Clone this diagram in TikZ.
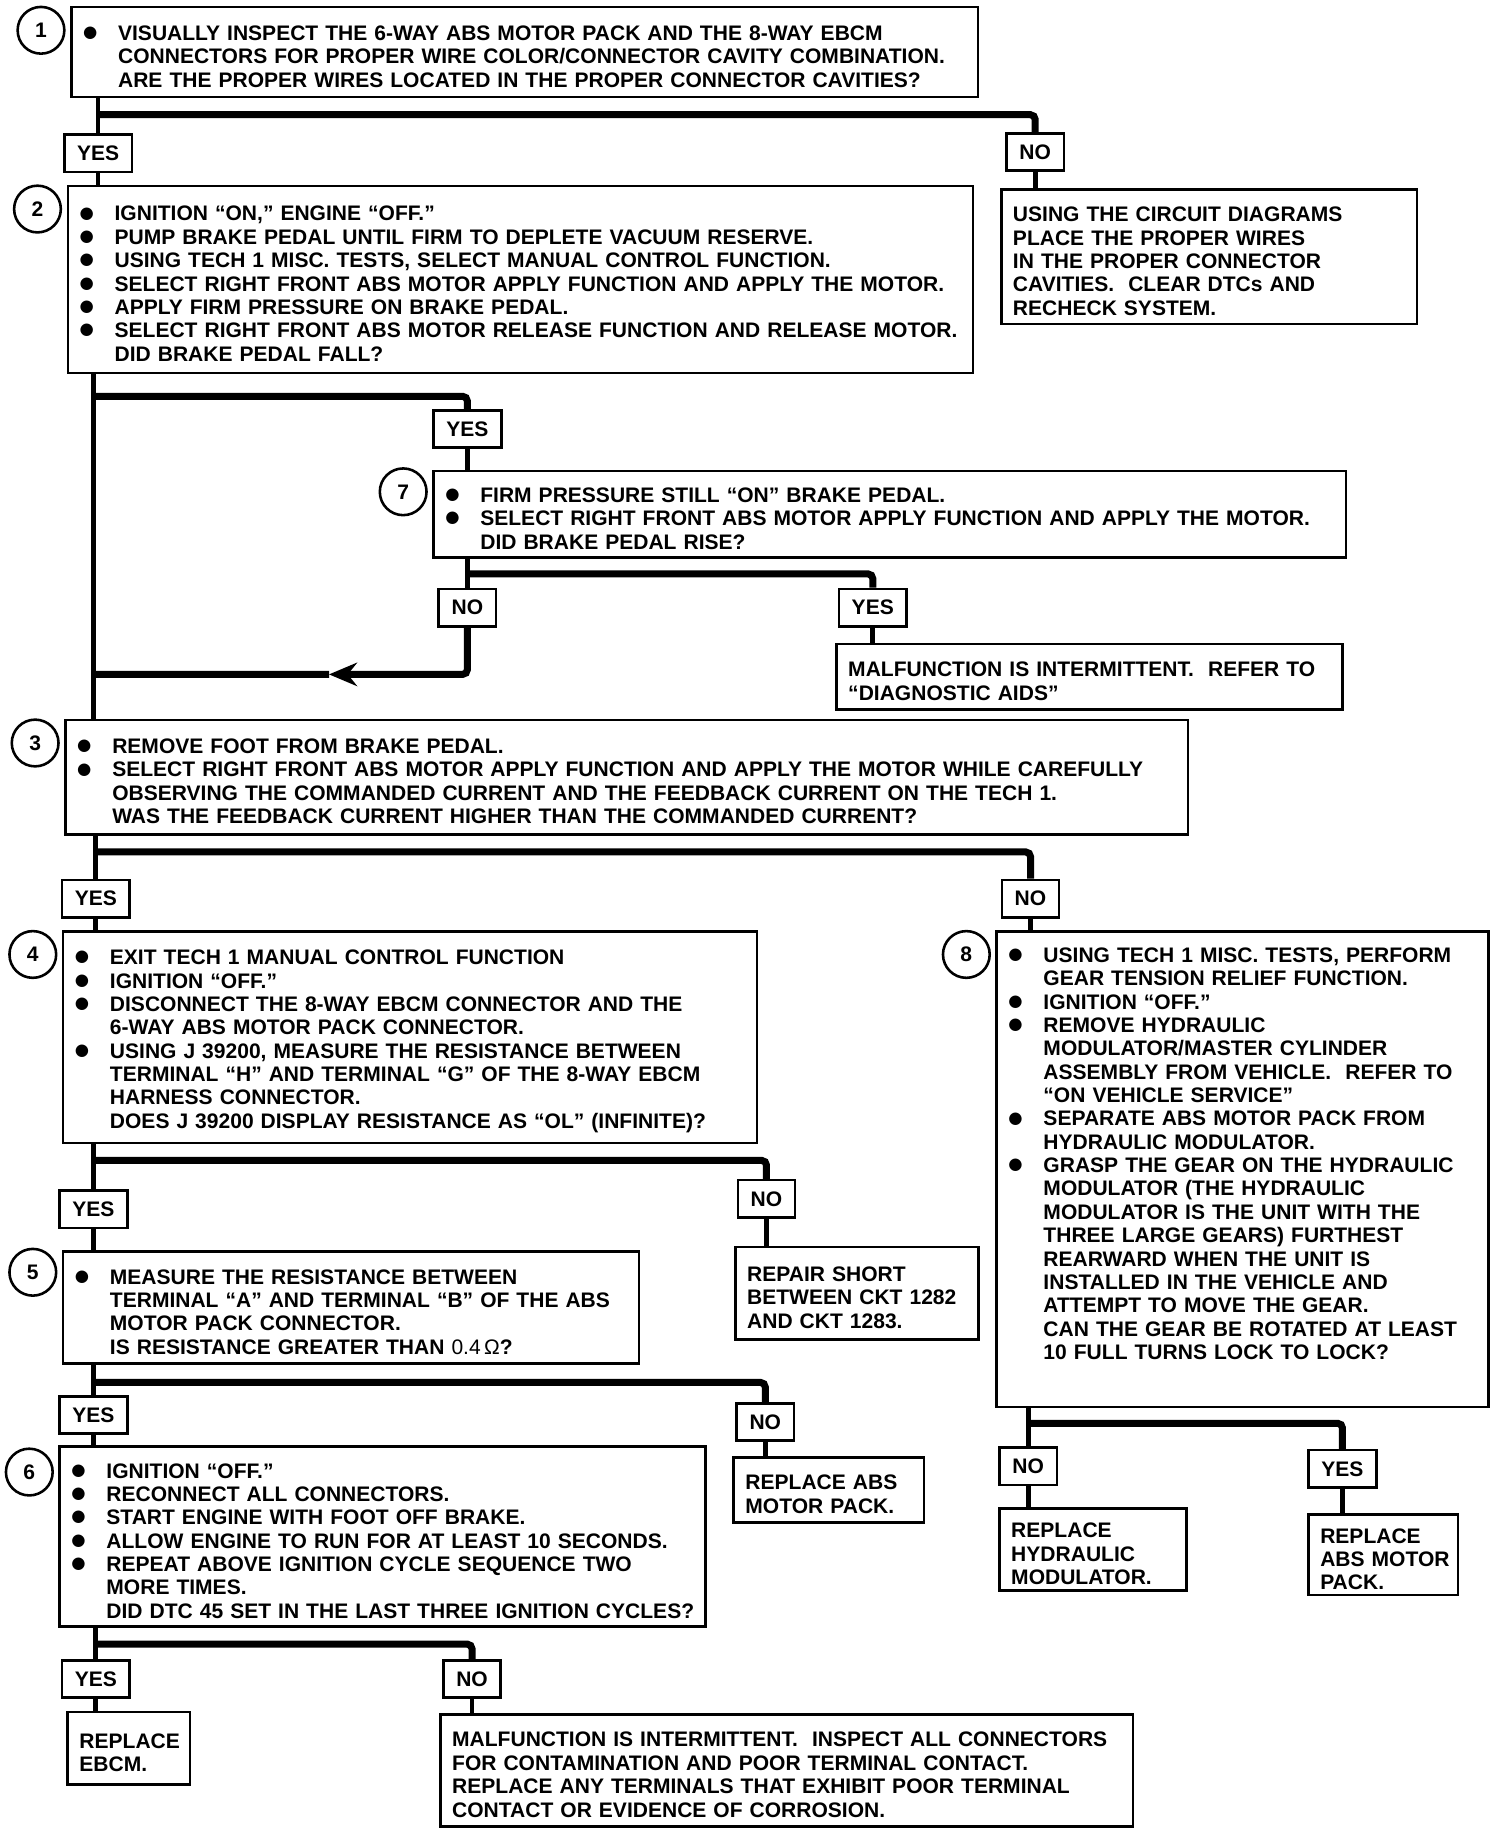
\documentclass[tikz,border=0pt]{standalone}
\usepackage{fontspec}
\setmainfont{Liberation Sans}
\newfontfamily\dotfont{DejaVu Sans}
\usetikzlibrary{positioning,arrows.meta,calc}
\newcommand{\bul}[1]{\par\noindent\makebox[16pt][l]{\hspace{1pt}\raisebox{1.2pt}{\dotfont\fontsize{7pt}{7pt}\selectfont ●}}\mbox{#1}}
\newcommand{\nxt}[1]{\par\noindent\hspace*{16pt}\mbox{#1}}
\newcommand{\pln}[1]{\par\noindent\mbox{#1}}

\begin{document}
\begin{tikzpicture}[x=0.5pt,y=-0.5pt,font=\fontsize{9pt}{10pt}\selectfont\bfseries,
  stepbox/.style={draw,line width=1.1pt,anchor=north west,inner xsep=4pt,inner ysep=0pt},
  endbox/.style={draw,line width=1.1pt,inner xsep=5pt,inner ysep=0pt},
  ans/.style={draw,line width=1.1pt,anchor=north,inner xsep=5.5pt,inner ysep=0pt,minimum height=16pt},
  num/.style={circle,draw,line width=1.1pt,minimum size=20pt,inner sep=0pt},
  wire/.style={line width=2pt},
  bar/.style={line width=3pt,rounded corners=2pt}]
  \useasboundingbox (0,0) rectangle (1287,1568);

  \node[stepbox,text width=379.9pt,minimum height=38.5pt] (s1) at (60,5) {%
    \bul{VISUALLY INSPECT THE 6-WAY ABS MOTOR PACK AND THE 8-WAY EBCM}
    \nxt{CONNECTORS FOR PROPER WIRE COLOR/CONNECTOR CAVITY COMBINATION.}
    \nxt{ARE THE PROPER WIRES LOCATED IN THE PROPER CONNECTOR CAVITIES?}};
  \node[num,below left=3pt and 5pt of s1.north west] (c1) {1};
  \node[ans] (y1) at (84,114) {YES};
  \node[ans] (n1) at (886,113) {NO};
  \node[endbox,text width=167.9pt,minimum height=57.5pt,below right=7pt and -2.25pt of n1.south west] (r1) {%
    \pln{USING THE CIRCUIT DIAGRAMS}
    \pln{PLACE THE PROPER WIRES}
    \pln{IN THE PROPER CONNECTOR}
    \pln{CAVITIES.\ \ CLEAR DTCs AND}
    \pln{RECHECK SYSTEM.}};

  \node[stepbox,text width=379.4pt,minimum height=80pt] (s2) at (57,158) {%
    \bul{IGNITION ``ON,'' ENGINE ``OFF.''}
    \bul{PUMP BRAKE PEDAL UNTIL FIRM TO DEPLETE VACUUM RESERVE.}
    \bul{USING TECH 1 MISC. TESTS, SELECT MANUAL CONTROL FUNCTION.}
    \bul{SELECT RIGHT FRONT ABS MOTOR APPLY FUNCTION AND APPLY THE MOTOR.}
    \bul{APPLY FIRM PRESSURE ON BRAKE PEDAL.}
    \bul{SELECT RIGHT FRONT ABS MOTOR RELEASE FUNCTION AND RELEASE MOTOR.}
    \nxt{DID BRAKE PEDAL FALL?}};
  \node[num,below left=3pt and 5pt of s2.north west] (c2) {2};
  \node[ans] (y2) at (400,350) {YES};

  \node[stepbox,text width=382.4pt,minimum height=37pt] (s7) at (370,402) {%
    \bul{FIRM PRESSURE STILL ``ON'' BRAKE PEDAL.}
    \bul{SELECT RIGHT FRONT ABS MOTOR APPLY FUNCTION AND APPLY THE MOTOR.}
    \nxt{DID BRAKE PEDAL RISE?}};
  \node[num,below left=2pt and 5pt of s7.north west] (c7) {7};
  \node[ans] (n7) at (400,503) {NO};
  \node[ans] (y7) at (747,503) {YES};
  \node[endbox,text width=206.4pt,minimum height=28pt,below right=6.5pt and -1pt of y7.south west] (r7) {%
    \pln{MALFUNCTION IS INTERMITTENT.\ \ REFER TO}
    \pln{``DIAGNOSTIC AIDS''}};

  \node[stepbox,text width=472.4pt,minimum height=49pt] (s3) at (55,615) {%
    \bul{REMOVE FOOT FROM BRAKE PEDAL.}
    \bul{SELECT RIGHT FRONT ABS MOTOR APPLY FUNCTION AND APPLY THE MOTOR WHILE CAREFULLY}
    \nxt{OBSERVING THE COMMANDED CURRENT AND THE FEEDBACK CURRENT ON THE TECH 1.}
    \nxt{WAS THE FEEDBACK CURRENT HIGHER THAN THE COMMANDED CURRENT?}};
  \node[num,below left=3pt and 5pt of s3.north west] (c3) {3};
  \node[ans] (y3) at (82,752) {YES};
  \node[ans] (n3) at (882,752) {NO};

  \node[stepbox,text width=288.9pt,minimum height=90.5pt] (s4) at (53,796) {%
    \bul{EXIT TECH 1 MANUAL CONTROL FUNCTION}
    \bul{IGNITION ``OFF.''}
    \bul{DISCONNECT THE 8-WAY EBCM CONNECTOR AND THE}
    \nxt{6-WAY ABS MOTOR PACK CONNECTOR.}
    \bul{USING J 39200, MEASURE THE RESISTANCE BETWEEN}
    \nxt{TERMINAL ``H'' AND TERMINAL ``G'' OF THE 8-WAY EBCM}
    \nxt{HARNESS CONNECTOR.}
    \nxt{DOES J 39200 DISPLAY RESISTANCE AS ``OL'' (INFINITE)?}};
  \node[num,below left=3pt and 5pt of s4.north west] (c4) {4};

  \node[stepbox,text width=202.4pt,minimum height=203.5pt] (s8) at (852,796) {%
    \bul{USING TECH 1 MISC. TESTS, PERFORM}
    \nxt{GEAR TENSION RELIEF FUNCTION.}
    \bul{IGNITION ``OFF.''}
    \bul{REMOVE HYDRAULIC}
    \nxt{MODULATOR/MASTER CYLINDER}
    \nxt{ASSEMBLY FROM VEHICLE.\ \ REFER TO}
    \nxt{``ON VEHICLE SERVICE''}
    \bul{SEPARATE ABS MOTOR PACK FROM}
    \nxt{HYDRAULIC MODULATOR.}
    \bul{GRASP THE GEAR ON THE HYDRAULIC}
    \nxt{MODULATOR (THE HYDRAULIC}
    \nxt{MODULATOR IS THE UNIT WITH THE}
    \nxt{THREE LARGE GEARS) FURTHEST}
    \nxt{REARWARD WHEN THE UNIT IS}
    \nxt{INSTALLED IN THE VEHICLE AND}
    \nxt{ATTEMPT TO MOVE THE GEAR.}
    \nxt{CAN THE GEAR BE ROTATED AT LEAST}
    \nxt{10 FULL TURNS LOCK TO LOCK?}
    \par\noindent\rule[-7pt]{0pt}{7pt}};
  \node[num,below left=3pt and 5pt of s8.north west] (c8) {8};
  \node[ans] (n8) at (880,1238) {NO};
  \node[ans] (y8) at (1149,1240) {YES};
  \node[endbox,text width=69.9pt,minimum height=35pt,below right=9pt and 0pt of n8.south west] (r8n) {%
    \pln{REPLACE}
    \pln{HYDRAULIC}
    \pln{MODULATOR.}};
  \node[endbox,text width=53.9pt,minimum height=34.5pt,below right=10.5pt and 0pt of y8.south west] (r8y) {%
    \pln{REPLACE}
    \pln{ABS MOTOR}
    \pln{PACK.}};

  \node[ans] (y4) at (80,1018) {YES};
  \node[ans] (n4) at (656,1009) {NO};
  \node[endbox,text width=93.9pt,minimum height=39.5pt,below right=11.5pt and -1pt of n4.south west] (r4) {%
    \pln{REPAIR SHORT}
    \pln{BETWEEN CKT 1282}
    \pln{AND CKT 1283.}};

  \node[stepbox,text width=238.4pt,minimum height=48pt] (s5) at (53,1070) {%
    \bul{MEASURE THE RESISTANCE BETWEEN}
    \nxt{TERMINAL ``A'' AND TERMINAL ``B'' OF THE ABS}
    \nxt{MOTOR PACK CONNECTOR.}
    \nxt{IS RESISTANCE GREATER THAN {\mdseries 0.4\,Ω}?}};
  \node[num,below left=2pt and 5pt of s5.north west] (c5) {5};
  \node[ans] (y5) at (80,1194) {YES};
  \node[ans] (n5) at (655,1200) {NO};
  \node[endbox,text width=71.4pt,minimum height=28pt,below right=6pt and -1.25pt of n5.south west] (r5) {%
    \pln{REPLACE ABS}
    \pln{MOTOR PACK.}};

  \node[stepbox,text width=268.4pt,minimum height=77pt] (s6) at (50,1237) {%
    \bul{IGNITION ``OFF.''}
    \bul{RECONNECT ALL CONNECTORS.}
    \bul{START ENGINE WITH FOOT OFF BRAKE.}
    \bul{ALLOW ENGINE TO RUN FOR AT LEAST 10 SECONDS.}
    \bul{REPEAT ABOVE IGNITION CYCLE SEQUENCE TWO}
    \nxt{MORE TIMES.}
    \nxt{DID DTC 45 SET IN THE LAST THREE IGNITION CYCLES?}};
  \node[num,below left=4pt and 5pt of s6.north west] (c6) {6};
  \node[ans] (y6) at (82,1420) {YES};
  \node[ans] (n6) at (404,1420) {NO};
  \node[endbox,text width=42.4pt,minimum height=31pt,below right=5pt and 2.5pt of y6.south west] (r6y) {%
    \pln{REPLACE}
    \pln{EBCM.}};
  \node[endbox,text width=286.4pt,minimum height=48pt,below right=6pt and -1.25pt of n6.south west] (r6n) {%
    \pln{MALFUNCTION IS INTERMITTENT.\ \ INSPECT ALL CONNECTORS}
    \pln{FOR CONTAMINATION AND POOR TERMINAL CONTACT.}
    \pln{REPLACE ANY TERMINALS THAT EXHIBIT POOR TERMINAL}
    \pln{CONTACT OR EVIDENCE OF CORROSION.}};

  \draw[wire] (s1.south -| y1.north) -- (y1.north);
  \draw[bar] ([yshift=-7pt]s1.south -| y1.north) -| (n1.north);
  \draw[wire] (y1.south) -- (y1.south |- s2.north);
  \draw[wire] (n1.south) -- (n1.south |- r1.north);

  \coordinate (j2) at ([xshift=11.5pt]s2.south west);
  \draw[wire] (j2) -- (j2 |- s3.north);
  \draw[bar] ([yshift=-9.5pt]j2) -| (y2.north);
  \draw[wire] (y2.south) -- (y2.south |- s7.north);

  \draw[wire] (s7.south -| n7.north) -- (n7.north);
  \draw[bar] ([yshift=-6.5pt]s7.south -| n7.north) -| (y7.north);
  \draw[wire] (y7.south) -- (y7.south |- r7.north);
  \coordinate (lp) at ([yshift=-20pt]n7.south);
  \coordinate (ar) at ($(lp)!0.37!(lp -| j2)$);
  \draw[bar,-{Stealth[length=12pt,width=10pt,inset=4pt]}] (n7.south) |- (ar);
  \draw[bar] (ar) -- (lp -| j2);

  \draw[wire] (s3.south -| y3.north) -- (y3.north);
  \draw[bar] ([yshift=-7pt]s3.south -| y3.north) -| (n3.north);
  \draw[wire] (y3.south) -- (y3.south |- s4.north);
  \draw[wire] (n3.south) -- (n3.south |- s8.north);

  \draw[wire] (s4.south -| y4.north) -- (y4.north);
  \draw[bar] ([yshift=-7pt]s4.south -| y4.north) -| (n4.north);
  \draw[wire] (y4.south) -- (y4.south |- s5.north);
  \draw[wire] (n4.south) -- (n4.south |- r4.north);

  \draw[wire] (s5.south -| y5.north) -- (y5.north);
  \draw[bar] ([yshift=-7.5pt]s5.south -| y5.north) -| (n5.north);
  \draw[wire] (y5.south) -- (y5.south |- s6.north);
  \draw[wire] (n5.south) -- (n5.south |- r5.north);

  \draw[wire] (s6.south -| y6.north) -- (y6.north);
  \draw[bar] ([yshift=-7pt]s6.south -| y6.north) -| (n6.north);
  \draw[wire] (y6.south) -- (y6.south |- r6y.north);
  \draw[wire] (n6.south) -- (n6.south |- r6n.north);

  \draw[wire] (s8.south -| n8.north) -- (n8.north);
  \draw[bar] ([yshift=-6.5pt]s8.south -| n8.north) -| (y8.north);
  \draw[wire] (n8.south) -- (n8.south |- r8n.north);
  \draw[wire] (y8.south) -- (y8.south |- r8y.north);
\end{tikzpicture}
\end{document}
